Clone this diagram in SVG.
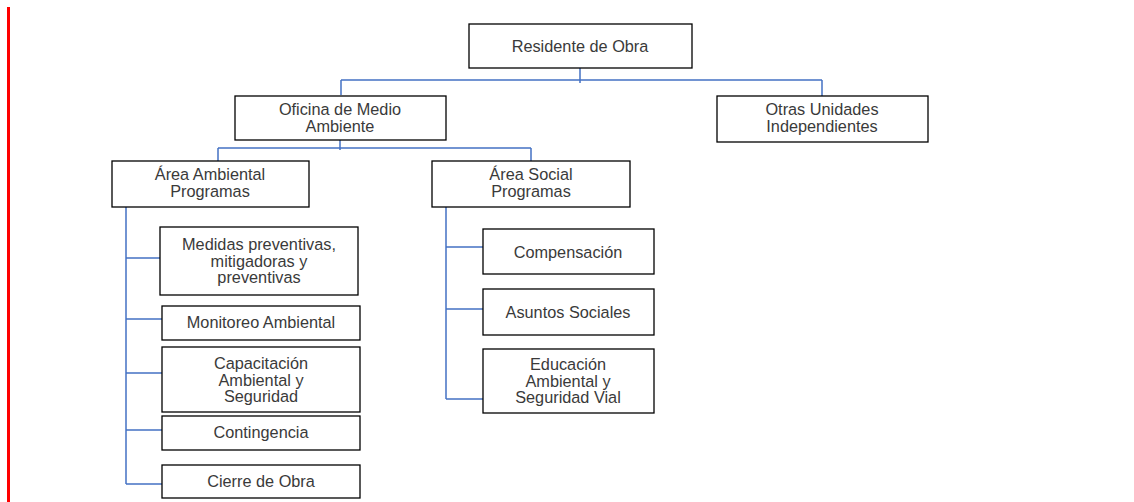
<svg xmlns="http://www.w3.org/2000/svg" width="1134" height="502" viewBox="0 0 1134 502">
<style>
.box{fill:#fff;stroke:#000;stroke-width:1.3}
.t{font-family:"Liberation Sans",Arial,sans-serif;font-size:16.3px;fill:#3a3a3a;text-anchor:middle}
.c{fill:none;stroke:#4472C4;stroke-width:1.5}
</style>
<rect width="1134" height="502" fill="#fff"/>
<line x1="8.5" y1="7" x2="8.5" y2="502" stroke="#ff0000" stroke-width="3"/>
<g id="connectors">
<path class="c" d="M580 68V83M341 80H822M341 80V95M822 80V96"/>
<path class="c" d="M340 140V150M218 148H531M218 148V161M531 148V161"/>
<path class="c" d="M126 207V484M126 258H160M126 319H162M126 373H162M126 430H162M126 484H162"/>
<path class="c" d="M446 207V399M446 247H483M446 309H483M446 399H483"/>
</g>
<g id="residente"><rect class="box" x="469" y="24" width="223" height="44"/><text class="t" x="580" y="51.5">Residente de Obra</text></g>
<g id="oficina"><rect class="box" x="235" y="96" width="211" height="44"/><text class="t" x="340" y="115">Oficina de Medio</text><text class="t" x="340" y="131.5">Ambiente</text></g>
<g id="otras"><rect class="box" x="717" y="96" width="211" height="46"/><text class="t" x="822" y="115">Otras Unidades</text><text class="t" x="822" y="132">Independientes</text></g>
<g id="area-ambiental"><rect class="box" x="112" y="161" width="197" height="46"/><text class="t" x="210" y="180">Área Ambiental</text><text class="t" x="210" y="196.5">Programas</text></g>
<g id="area-social"><rect class="box" x="432" y="161" width="198" height="46"/><text class="t" x="531" y="180">Área Social</text><text class="t" x="531" y="196.5">Programas</text></g>
<g id="medidas"><rect class="box" x="160" y="227" width="198" height="68"/><text class="t" x="259" y="250">Medidas preventivas,</text><text class="t" x="259" y="266.5">mitigadoras y</text><text class="t" x="259" y="283">preventivas</text></g>
<g id="monitoreo"><rect class="box" x="162" y="306" width="198" height="34"/><text class="t" x="261" y="328">Monitoreo Ambiental</text></g>
<g id="capacitacion"><rect class="box" x="162" y="347" width="198" height="65"/><text class="t" x="261" y="369">Capacitación</text><text class="t" x="261" y="385.5">Ambiental y</text><text class="t" x="261" y="402">Seguridad</text></g>
<g id="contingencia"><rect class="box" x="162" y="416" width="198" height="34"/><text class="t" x="261" y="438">Contingencia</text></g>
<g id="cierre"><rect class="box" x="162" y="465" width="198" height="33"/><text class="t" x="261" y="487">Cierre de Obra</text></g>
<g id="compensacion"><rect class="box" x="483" y="229" width="171" height="45"/><text class="t" x="568" y="258">Compensación</text></g>
<g id="asuntos"><rect class="box" x="483" y="289" width="171" height="46"/><text class="t" x="568" y="318">Asuntos Sociales</text></g>
<g id="educacion"><rect class="box" x="483" y="349" width="171" height="64"/><text class="t" x="568" y="370">Educación</text><text class="t" x="568" y="386.5">Ambiental y</text><text class="t" x="568" y="403">Seguridad Vial</text></g>
</svg>
